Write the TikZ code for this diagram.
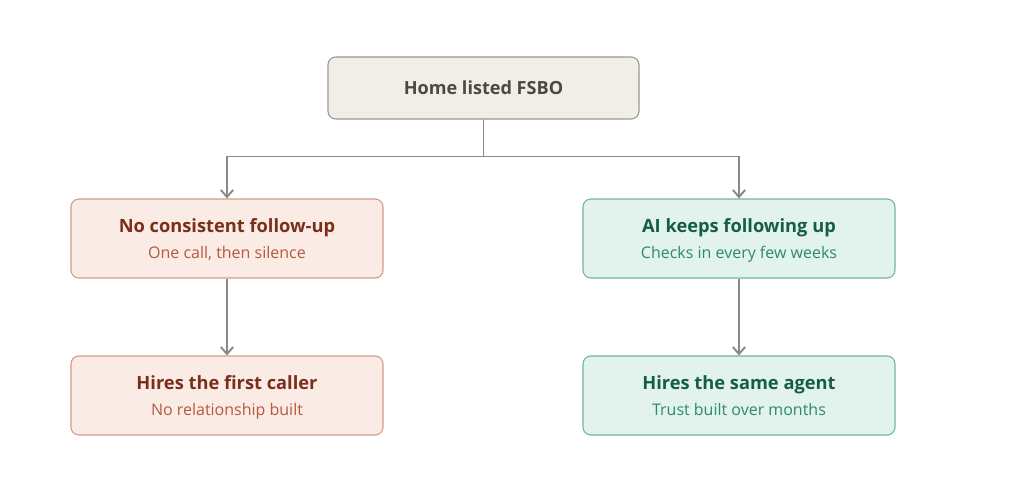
\documentclass[tikz,border=0pt]{standalone}
\usepackage{fontspec}
\setmainfont{Open Sans}
\usetikzlibrary{arrows.meta,positioning,calc}
\definecolor{startfill}{HTML}{F1EEE8}
\definecolor{startdraw}{HTML}{9C978C}
\definecolor{starttext}{HTML}{4A4944}
\definecolor{badfill}{HTML}{FAEBE5}
\definecolor{baddraw}{HTML}{D39A88}
\definecolor{badtitle}{HTML}{7A2F1B}
\definecolor{badsub}{HTML}{B5593F}
\definecolor{goodfill}{HTML}{E1F3EC}
\definecolor{gooddraw}{HTML}{70B59B}
\definecolor{goodtitle}{HTML}{155E46}
\definecolor{goodsub}{HTML}{2E8A67}
\definecolor{flowline}{HTML}{8A8983}
\tikzset{startbox/.style={draw=startdraw,fill=startfill,rounded corners=4.5pt,line width=0.6pt,minimum width=6.22cm,minimum height=1.24cm,align=center,font=\fontsize{10.3}{12}\selectfont\bfseries,text=starttext},badbox/.style={draw=baddraw,fill=badfill,rounded corners=4.5pt,line width=0.6pt,minimum width=6.24cm,minimum height=1.58cm,align=center,text depth=0pt},goodbox/.style={draw=gooddraw,fill=goodfill,rounded corners=4.5pt,line width=0.6pt,minimum width=6.24cm,minimum height=1.58cm,align=center,text depth=0pt},flowarr/.style={-{Straight Barb[length=4pt,width=7pt]},line width=1.1pt,draw=flowline}}

\begin{document}
\begin{tikzpicture}
\useasboundingbox (0,0) rectangle (20.48,-9.96);
\node[startbox] (home) at (9.67,-1.76) {Home listed FSBO};
\node[badbox] (nofollow) at (4.54,-4.77) {{\fontsize{10.4}{12}\selectfont\bfseries\color{badtitle}No consistent follow-up}\\[2.5pt]{\fontsize{9.1}{10}\selectfont\color{badsub}One call, then silence}};
\node[goodbox] (aifollow) at (14.78,-4.77) {{\fontsize{10.4}{12}\selectfont\bfseries\color{goodtitle}AI keeps following up}\\[2.5pt]{\fontsize{9.1}{10}\selectfont\color{goodsub}Checks in every few weeks}};
\node[badbox] (firstcaller) at (4.54,-7.91) {{\fontsize{10.4}{12}\selectfont\bfseries\color{badtitle}Hires the first caller}\\[2.5pt]{\fontsize{9.1}{10}\selectfont\color{badsub}No relationship built}};
\node[goodbox] (sameagent) at (14.78,-7.91) {{\fontsize{10.4}{12}\selectfont\bfseries\color{goodtitle}Hires the same agent}\\[2.5pt]{\fontsize{9.1}{10}\selectfont\color{goodsub}Trust built over months}};
\coordinate (split) at ($(home.south)+(0,-0.74)$);
\draw[flowarr] (home.south)--(split)-|(nofollow.north);
\draw[flowarr] (split)-|(aifollow.north);
\draw[flowarr] (nofollow)--(firstcaller);
\draw[flowarr] (aifollow)--(sameagent);
\end{tikzpicture}
\end{document}
